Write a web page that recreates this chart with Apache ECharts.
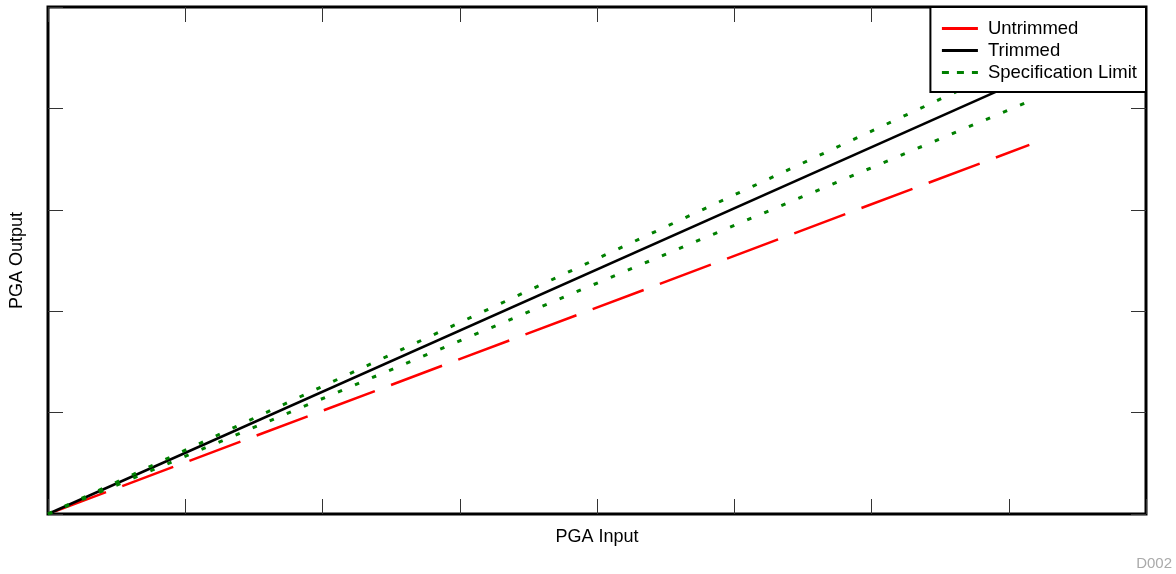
<!DOCTYPE html>
<html>
<head>
<meta charset="utf-8">
<script src="https://cdn.jsdelivr.net/npm/echarts@6/dist/echarts.min.js"></script>
<style>
  html, body { margin: 0; padding: 0; background: #fff; }
  #chart { width: 1176px; height: 574px; }
</style>
</head>
<body>
<div id="chart"></div>
<script>
// endpoints (axis units, no labels shown)
const inputX = [0, 7.15];
const untrimmed = [0, 3.64];
const trimmed = [0, 4.31];
const specUpper = [0, 4.5];
const specLower = [0, 4.07];
const seriesNames = ["Untrimmed", "Trimmed", "Specification Limit"];

const pairs = (ys) => inputX.map((x, i) => [x, ys[i]]);

const myChart = echarts.init(document.getElementById("chart"));

const font = "Liberation Sans, Arial, sans-serif";
const hiddenAxis = () => ({
  axisLine: { show: false, onZero: false },
  axisLabel: { show: false },
  splitLine: { show: false },
  axisTick: { inside: true, length: 15, lineStyle: { color: "#333", width: 1 } },
});

const option = {
  animation: false,
  textStyle: { fontFamily: font },
  grid: {
    left: 48, right: 30, top: 7, bottom: 60,
    show: true, borderColor: "#000", borderWidth: 3, backgroundColor: "#fff",
  },
  legend: {
    right: 30, top: 7, z: 10,
    orient: "vertical",
    align: "left",
    backgroundColor: "#fff",
    borderColor: "#000",
    borderWidth: 2,
    borderRadius: 0,
    padding: [12, 9, 10, 10],
    itemWidth: 36,
    itemHeight: 14,
    itemGap: 3,
    itemStyle: { color: "rgba(0,0,0,0)", borderWidth: 0 },
    lineStyle: { width: 3 },
    textStyle: { fontSize: 18.5, color: "#000", fontFamily: font, padding: [0, 0, 0, 5] },
    data: [
      { name: seriesNames[0], lineStyle: { width: 3, type: "solid", dashOffset: 0 } },
      seriesNames[1],
      { name: seriesNames[2], lineStyle: { width: 3, type: [7, 8] } },
    ],
  },
  xAxis: [
    Object.assign({
      type: "value", min: 0, max: 8, interval: 1, position: "bottom",
      name: "PGA Input", nameLocation: "middle", nameGap: 14,
      nameTextStyle: { fontSize: 18, color: "#000" },
    }, hiddenAxis()),
    Object.assign({ type: "value", min: 0, max: 8, interval: 1, position: "top" }, hiddenAxis()),
  ],
  yAxis: [
    Object.assign({
      type: "value", min: 0, max: 5, interval: 1, position: "left",
      name: "PGA Output", nameLocation: "middle", nameGap: 22,
      nameTextStyle: { fontSize: 18, color: "#000" },
    }, hiddenAxis()),
    Object.assign({ type: "value", min: 0, max: 5, interval: 1, position: "right" }, hiddenAxis()),
  ],
  graphic: [
    {
      type: "text", right: 4, bottom: 3,
      style: { text: "D002", fill: "#aaa", fontSize: 15, fontFamily: font },
    },
  ],
  series: [
    {
      name: "Untrimmed", type: "line", symbol: "none", z: 2,
      data: pairs(untrimmed),
      lineStyle: { color: "#ff0000", width: 2.5, type: [54.5, 17.3], dashOffset: 64.3 },
      itemStyle: { color: "#ff0000" },
    },
    {
      name: "Trimmed", type: "line", symbol: "none", z: 3,
      data: pairs(trimmed),
      lineStyle: { color: "#000", width: 2.5 },
      itemStyle: { color: "#000" },
    },
    {
      name: "Specification Limit", type: "line", symbol: "none", z: 4,
      data: pairs(specUpper),
      lineStyle: { color: "#008000", width: 3, type: [4.5, 14] },
      itemStyle: { color: "#008000" },
    },
    {
      name: "Specification Limit", type: "line", symbol: "none", z: 4,
      data: pairs(specLower),
      lineStyle: { color: "#008000", width: 3, type: [4.5, 14] },
      itemStyle: { color: "#008000" },
    },
  ],
};

myChart.setOption(option);
</script>
</body>
</html>
